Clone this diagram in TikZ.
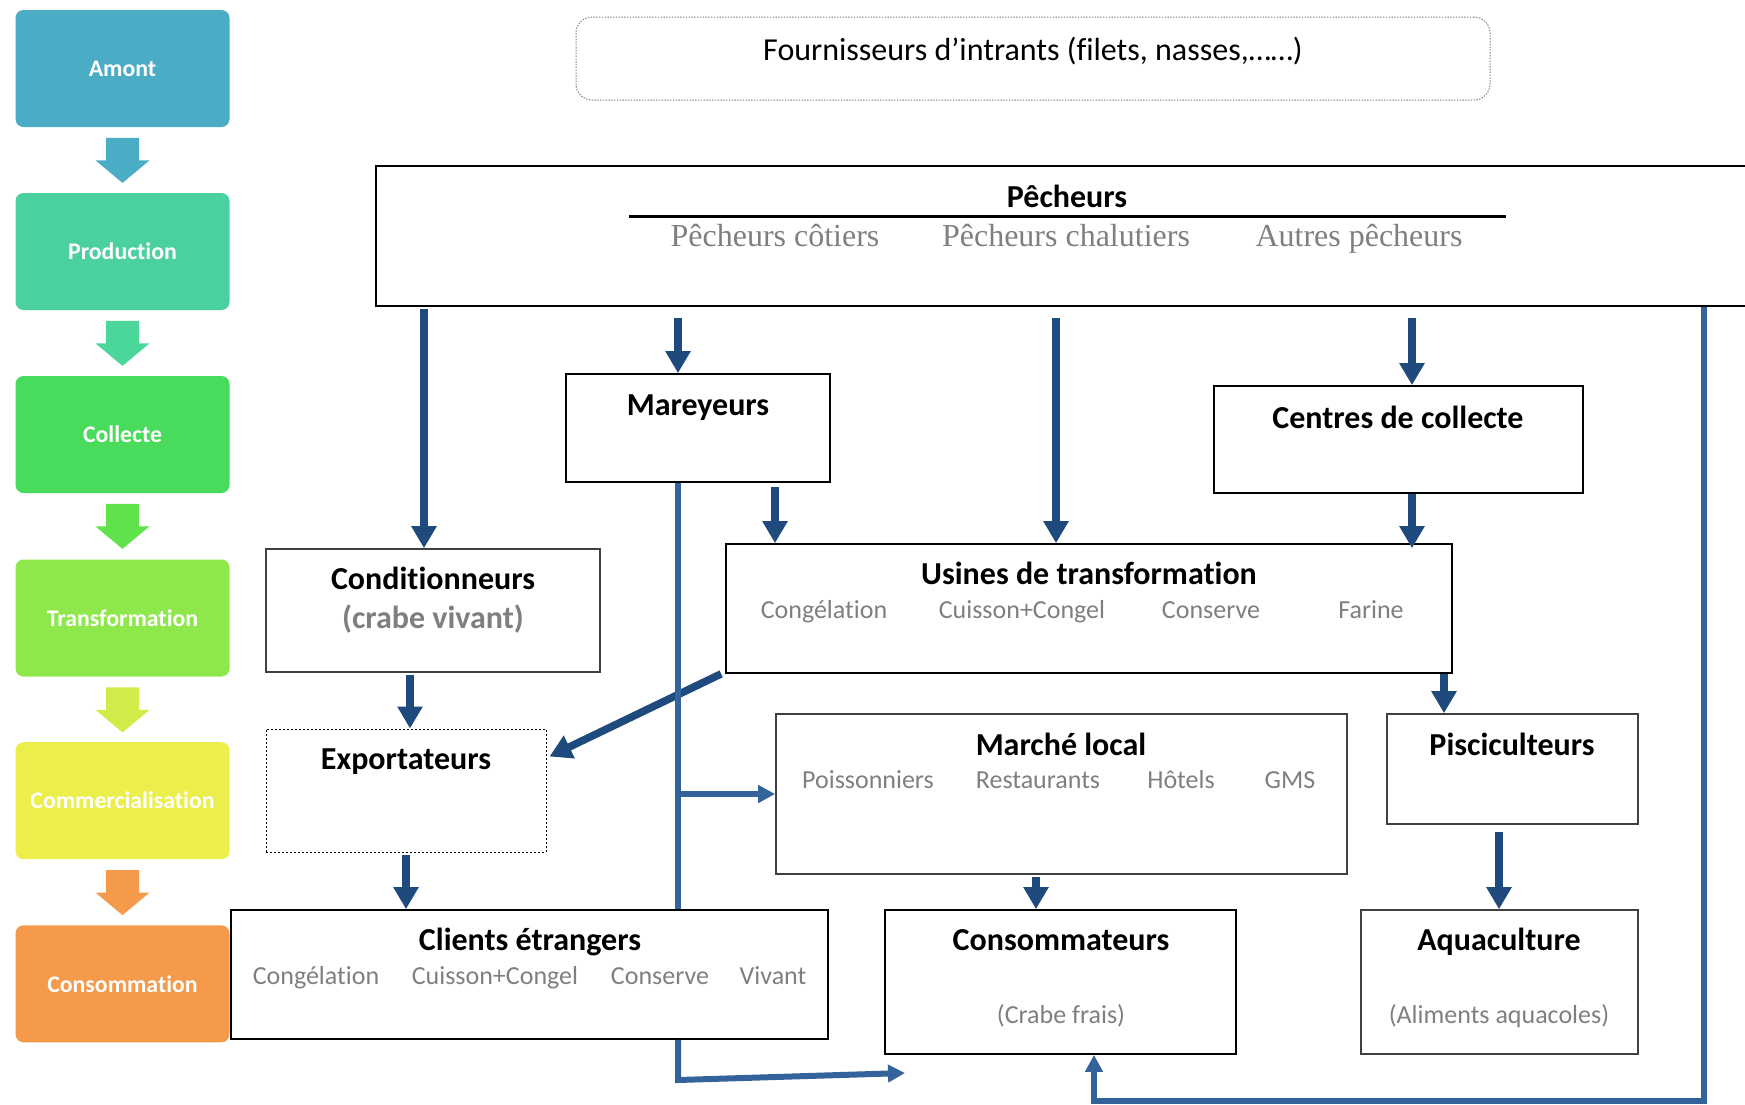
\documentclass[tikz,border=0pt]{standalone}
\usepackage{fontspec}
\setmainfont{Carlito}[Ligatures=NoCommon]
\newfontfamily\serifp{Liberation Serif}
\usetikzlibrary{arrows.meta,calc}
\definecolor{cA}{HTML}{4BACC6}
\definecolor{cB}{HTML}{4BD1A0}
\definecolor{cC}{HTML}{48DB5C}
\definecolor{cD}{HTML}{8EE84B}
\definecolor{cE}{HTML}{ECEE4B}
\definecolor{cF}{HTML}{F59A4A}
\definecolor{aA}{HTML}{4BACC6}
\definecolor{aB}{HTML}{4BD69A}
\definecolor{aC}{HTML}{5FE24A}
\definecolor{aD}{HTML}{D2EB48}
\definecolor{aE}{HTML}{F59A4A}
\definecolor{dblue}{HTML}{1F4A7E}
\definecolor{lblue}{HTML}{34629B}
\definecolor{subgray}{HTML}{7F7F7F}
\definecolor{boxgray}{HTML}{404040}
\begin{document}
\begin{tikzpicture}[x=0.5pt,y=-0.5pt,
  stage/.style={rounded corners=4pt, minimum width=107pt, minimum height=58.5pt, inner sep=0pt, text=white, font=\fontsize{11.9}{14}\selectfont\bfseries},
  box/.style={draw=black, line width=0.85pt, inner sep=0pt},
  gbox/.style={draw=boxgray, line width=0.8pt, inner sep=0pt},
  ttl/.style={inner sep=0pt, yshift=-1.4pt, text height=11.5pt, text depth=3.5pt, font=\fontsize{16}{19}\selectfont\bfseries},
  sub/.style={inner sep=0pt, yshift=-1.2pt, text height=9.5pt, text depth=3pt, text=subgray, font=\fontsize{13}{16}\selectfont},
  ser/.style={inner sep=0pt, yshift=-1.2pt, text height=11.5pt, text depth=3.5pt, text=subgray, font=\serifp\fontsize{16}{19}\selectfont},
  darr/.style={draw=dblue, line width=3.8pt, -{Triangle[width=12pt,length=11pt]}},
  larr/.style={draw=lblue, line width=3pt, -{Triangle[width=8.5pt,length=8.5pt]}},
  lline/.style={draw=lblue, line width=3.3pt},
]
\useasboundingbox (0,0) rectangle (1745,1104);
\clip (0,0) rectangle (1745,1104);

% stages
\node[stage, fill=cA] (s1) at (122.5,68.5) {Amont};
\node[stage, fill=cB] (s2) at (122.5,251.5) {Production};
\node[stage, fill=cC] (s3) at (122.5,434.5) {Collecte};
\node[stage, fill=cD] (s4) at (122.5,618) {Transformation};
\node[stage, fill=cE] (s5) at (122.5,800.7) {Commercialisation};
\node[stage, fill=cF] (s6) at (122.5,983.8) {Consommation};
\foreach \s/\c in {s1/aA, s2/aB, s3/aC, s4/aD, s5/aE}{
  \fill[\c] ($(\s.south)+(-16.5,10.5)$) -- ++(33,0) -- ++(0,22.5) -- ++(10.5,0)
    -- ++(-27,22.5) -- ++(-27,-22.5) -- ++(10.5,0) -- cycle;
}

% top box
\node[draw=gray, line width=0.5pt, dash pattern=on 0.7pt off 0.7pt, rounded corners=8pt,
  minimum width=457pt, minimum height=41.5pt, inner sep=0pt] (fourn) at (1033,58.5) {};
\node[inner sep=0pt, yshift=-1pt, font=\fontsize{16}{19}\selectfont] (fournt) at (1033,49) {Fournisseurs d’intrants (filets, nasses,……)};

% pecheurs
\node[box, line width=1pt, minimum width=692pt, minimum height=70pt] (pech) at (1068,236) {};
\node[ttl] (pecht) at (1067,197) {Pêcheurs};
\draw[line width=1.5pt] (629,216) -- (1506,216);
\node[ser] (pc1) at (775,236) {Pêcheurs côtiers};
\node[ser] (pc2) at (1066,236) {Pêcheurs chalutiers};
\node[ser] (pc3) at (1359,236) {Autres pêcheurs};

% boxes
\node[box, minimum width=132pt, minimum height=54pt] (marey) at (698,428) {};
\node[ttl] at (698,405) {Mareyeurs};
\node[box, minimum width=184.5pt, minimum height=53.5pt] (centres) at (1398.5,439.5) {};
\node[ttl] at (1398,418) {Centres de collecte};
\node[gbox, minimum width=167pt, minimum height=61.5pt] (cond) at (433,610.5) {};
\node[ttl] at (433,579) {Conditionneurs};
\node[ttl, text=subgray] at (433,618) {(crabe vivant)};
\node[box, minimum width=363pt, minimum height=64.5pt] (usines) at (1089,608.5) {};
\node[ttl] at (1089,574) {Usines de transformation};
\node[sub] at (824,610) {Congélation};
\node[sub] at (1022,610) {Cuisson+Congel};
\node[sub] at (1211,610) {Conserve};
\node[sub] at (1371,610) {Farine};
\node[draw=black, line width=0.5pt, dash pattern=on 1pt off 1pt, inner sep=0pt,
  minimum width=140pt, minimum height=61.5pt] (expo) at (406,790.5) {};
\node[ttl] at (406,759) {Exportateurs};
\node[gbox, minimum width=285.5pt, minimum height=80pt] (marche) at (1061.5,794) {};
\node[ttl] at (1061,745) {Marché local};
\node[sub] at (868,780) {Poissonniers};
\node[sub] at (1038,780) {Restaurants};
\node[sub] at (1181,780) {Hôtels};
\node[sub] at (1290,780) {GMS};
\node[gbox, minimum width=125.5pt, minimum height=55pt] (pisci) at (1512.5,769) {};
\node[ttl] at (1512,745) {Pisciculteurs};
\node[box, minimum width=298.5pt, minimum height=64.5pt] (clients) at (529.5,974.5) {};
\node[ttl] at (530,940) {Clients étrangers};
\node[sub] at (316,976) {Congélation};
\node[sub] at (495,976) {Cuisson+Congel};
\node[sub] at (660,976) {Conserve};
\node[sub] at (773,976) {Vivant};
\node[box, minimum width=175.5pt, minimum height=72pt] (conso) at (1060.5,982) {};
\node[ttl] at (1061,940) {Consommateurs};
\node[sub] at (1061,1015) {(Crabe frais)};
\node[gbox, minimum width=138.5pt, minimum height=72pt] (aqua) at (1499.5,982) {};
\node[ttl] at (1499,940) {Aquaculture};
\node[sub] at (1499,1015) {(Aliments aquacoles)};

% dark arrows
\coordinate (p1) at (424,309);
\coordinate (p2) at (678,318);
\coordinate (p3) at (1056,318);
\coordinate (p4) at (1412,318);
\draw[darr] (p1) -- (p1 |- cond.north);
\draw[darr] (p2) -- (p2 |- marey.north);
\draw[darr] (p3) -- (p3 |- usines.north);
\draw[darr] (p4) -- (p4 |- centres.north);
\coordinate (q1) at (775,487);
\draw[darr] (q1) -- (q1 |- usines.north);
\coordinate (q2) at (1412,0);
\draw[darr] (q2 |- centres.south) -- ($(q2 |- usines.north)+(0,5)$);
\coordinate (q3) at (1444,0);
\draw[darr] (q3 |- usines.south) -- (q3 |- pisci.north);
\draw[darr] ($(usines.south west)+(-4,0)$) -- ($(expo.north east)+(3,28)$);
\coordinate (q4) at (410,0);
\draw[darr] ($(q4 |- cond.south)+(0,2)$) -- (q4 |- expo.north);
\coordinate (q5) at (406,0);
\draw[darr] ($(q5 |- expo.south)+(0,2)$) -- (q5 |- clients.north);
\coordinate (q6) at (1036,0);
\draw[darr] ($(q6 |- marche.south)+(0,2)$) -- (q6 |- conso.north);
\coordinate (q7) at (1499,0);
\draw[darr] ($(q7 |- pisci.south)+(0,7)$) -- (q7 |- aqua.north);

% light lines
\coordinate (m1) at (678,0);
\draw[lline] (m1 |- marey.south) -- (m1 |- clients.north);
\draw[larr, line width=2.7pt] (m1 |- marche.west) -- (marche.west);
\coordinate (m2) at (905,1073);
\draw[larr] (m1 |- clients.south) -- (678,1080) -- (m2);
\coordinate (r1) at (1704,0);
\coordinate (r2) at (1094,1101);
\draw[larr] (r1 |- pech.south) -- (1704,1101) -- (r2) -- (r2 |- conso.south);
\end{tikzpicture}
\end{document}
